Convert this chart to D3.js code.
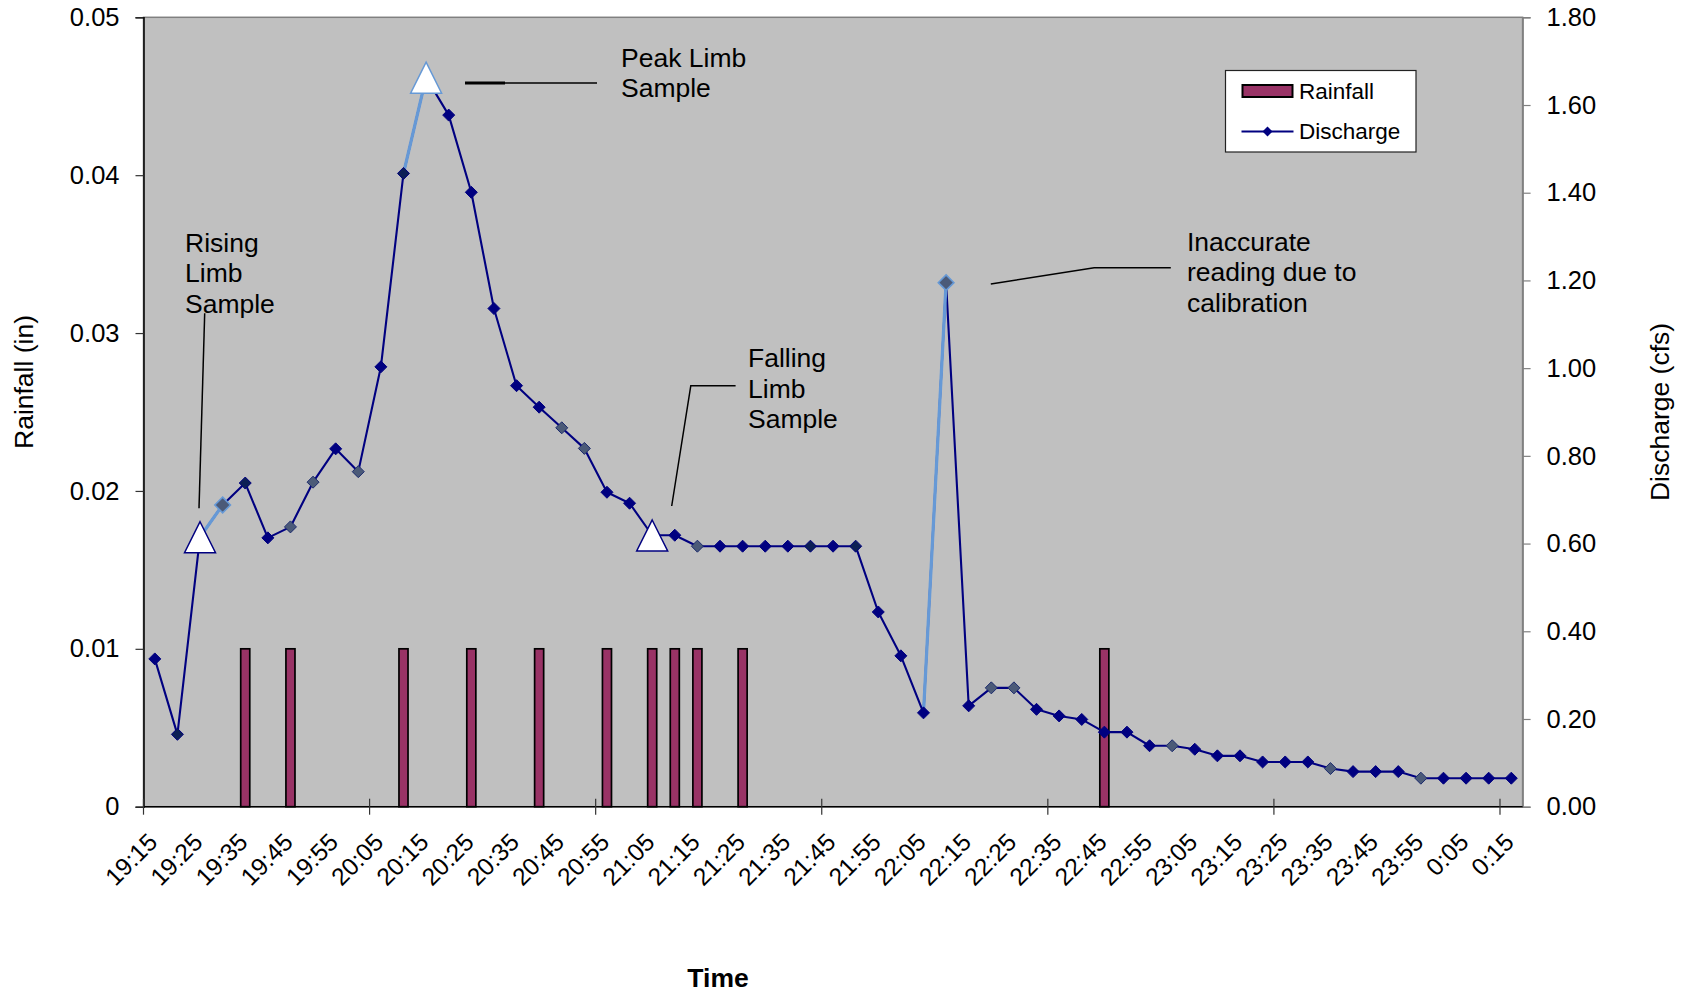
<!DOCTYPE html>
<html>
<head>
<meta charset="utf-8">
<script src="https://cdn.jsdelivr.net/npm/d3@7"></script>
<style>
  html, body { margin: 0; padding: 0; background: #ffffff; }
  svg { display: block; }
  text { font-family: "Liberation Sans", Arial, sans-serif; fill: #000; }
</style>
</head>
<body>
<svg id="chart" width="1697" height="994"></svg>
<script>
// Sampling times (5-minute steps) on the category axis
const times = [
  "19:15","19:20","19:25","19:30","19:35","19:40","19:45","19:50","19:55","20:00",
  "20:05","20:10","20:15","20:20","20:25","20:30","20:35","20:40","20:45","20:50",
  "20:55","21:00","21:05","21:10","21:15","21:20","21:25","21:30","21:35","21:40",
  "21:45","21:50","21:55","22:00","22:05","22:10","22:15","22:20","22:25","22:30",
  "22:35","22:40","22:45","22:50","22:55","23:00","23:05","23:10","23:15","23:20",
  "23:25","23:30","23:35","23:40","23:45","23:50","23:55","0:00","0:05","0:10","0:15"
];

// Discharge (cfs) at each sampling time
const discharge = [
  0.337, 0.165, 0.615, 0.688, 0.738, 0.613, 0.638, 0.740, 0.816, 0.764,
  1.003, 1.444, 1.663, 1.577, 1.401, 1.136, 0.960, 0.911, 0.864, 0.817,
  0.717, 0.692, 0.619, 0.619, 0.594, 0.594, 0.594, 0.594, 0.594, 0.594,
  0.594, 0.594, 0.444, 0.344, 0.214, 1.195, 0.230, 0.271, 0.271, 0.222,
  0.207, 0.199, 0.170, 0.170, 0.139, 0.139, 0.131, 0.116, 0.116, 0.102,
  0.102, 0.102, 0.087, 0.080, 0.080, 0.080, 0.065, 0.065, 0.065, 0.065, 0.065
];

// Rainfall (in) recorded in each interval
const rainfall = [
  0, 0, 0, 0, 0.01, 0, 0.01, 0, 0, 0,
  0, 0.01, 0, 0, 0.01, 0, 0, 0.01, 0, 0,
  0.01, 0, 0.01, 0.01, 0.01, 0, 0.01, 0, 0, 0,
  0, 0, 0, 0, 0, 0, 0, 0, 0, 0,
  0, 0, 0.01, 0, 0, 0, 0, 0, 0, 0,
  0, 0, 0, 0, 0, 0, 0, 0, 0, 0, 0
];

// Times at which water samples were taken
const sampleTimes = ["19:25", "20:15", "21:05"];

// Axis tick values and their labels
const rainTicks = [0, 0.01, 0.02, 0.03, 0.04, 0.05];
const rainTickLabels = ["0", "0.01", "0.02", "0.03", "0.04", "0.05"];
const dischargeTicks = [0, 0.2, 0.4, 0.6, 0.8, 1.0, 1.2, 1.4, 1.6, 1.8];
const dischargeTickLabels = ["0.00", "0.20", "0.40", "0.60", "0.80", "1.00", "1.20", "1.40", "1.60", "1.80"];

// Marker tones used for individual discharge points
const slatePoints = ["19:30","19:45","19:50","20:00","20:45","20:50","21:15","22:10","22:20","22:25","23:00","23:35","23:55"];
const darkPoints = ["19:20","19:35","20:10","21:40","21:50"];
const enlargedPoints = ["19:30","22:10"];
// Line segments (ending at these times) drawn in light blue
const lightSegmentEnds = ["19:30","20:15","22:10"];

// ---- layout ----
const plot = { left: 143.5, top: 17.3, right: 1522.6, bottom: 806.7 };
const NAVY = "#000080", LIGHT = "#6699d6", SLATE = "#4b5a78", DARK = "#0c1f55", PLUM = "#993366";
const TICK_FONT = "25.5px", NOTE_FONT = "26.5px", LEGEND_FONT = "22.5px", TITLE_FONT = "26.5px";

const svg = d3.select("#chart");

const x = d3.scaleBand()
  .domain(times)
  .range([plot.left, plot.right])
  .paddingInner(0.6)
  .paddingOuter(0.3);
const cx = t => x(t) + x.bandwidth() / 2;
const step = x.step();

const yL = d3.scaleLinear().domain([0, 0.05]).range([plot.bottom, plot.top]);
const yR = d3.scaleLinear().domain([0, 1.8]).range([plot.bottom, plot.top]);

// plot area
svg.append("rect")
  .attr("x", plot.left).attr("y", plot.top)
  .attr("width", plot.right - plot.left).attr("height", plot.bottom - plot.top)
  .attr("fill", "#c0c0c0").attr("stroke", "#808080").attr("stroke-width", 1.5);

// rainfall bars
const rainData = times.map((t, i) => ({ t, v: rainfall[i] })).filter(d => d.v > 0);
svg.append("g").selectAll("rect").data(rainData).join("rect")
  .attr("x", d => x(d.t))
  .attr("y", d => yL(d.v))
  .attr("width", x.bandwidth())
  .attr("height", d => yL(0) - yL(d.v))
  .attr("fill", PLUM).attr("stroke", "#000").attr("stroke-width", 1.7);

// discharge line
const pts = times.map((t, i) => ({ t, v: discharge[i] }));
const lineGen = d3.line().x(d => cx(d.t)).y(d => yR(d.v));
svg.append("path").datum(pts)
  .attr("d", lineGen).attr("fill", "none")
  .attr("stroke", NAVY).attr("stroke-width", 2.1).attr("stroke-linejoin", "round");

// highlighted segments
const segs = [];
pts.forEach((d, i) => { if (i > 0 && lightSegmentEnds.includes(d.t)) segs.push([pts[i - 1], d]); });
svg.append("g").selectAll("path").data(segs).join("path")
  .attr("d", lineGen).attr("fill", "none")
  .attr("stroke", LIGHT).attr("stroke-width", 3.2);

// diamond markers
const diamond = r => `M0,${-r}L${r},0L0,${r}L${-r},0Z`;
svg.append("g").selectAll("path")
  .data(pts.filter(d => !sampleTimes.includes(d.t))).join("path")
  .attr("transform", d => `translate(${cx(d.t)},${yR(d.v)})`)
  .attr("d", d => diamond(enlargedPoints.includes(d.t) ? 7.8 : 6))
  .attr("fill", d => slatePoints.includes(d.t) ? SLATE : darkPoints.includes(d.t) ? DARK : NAVY)
  .attr("stroke", d => enlargedPoints.includes(d.t) ? LIGHT : (slatePoints.includes(d.t) ? "#1c2b6e" : NAVY))
  .attr("stroke-width", d => enlargedPoints.includes(d.t) ? 1.6 : 1);

// sample triangles
const tri = s => `M0,${-s * 0.62}L${s / 2},${s * 0.38}L${-s / 2},${s * 0.38}Z`;
svg.append("g").selectAll("path")
  .data(pts.filter(d => sampleTimes.includes(d.t))).join("path")
  .attr("transform", d => `translate(${cx(d.t)},${yR(d.v) + 4})`)
  .attr("d", tri(31))
  .attr("fill", "#ffffff")
  .attr("stroke", d => d.t === "20:15" ? LIGHT : NAVY)
  .attr("stroke-width", 1.5);

// ---- axes ----
const leftAxis = d3.axisLeft(yL).tickValues(rainTicks)
  .tickFormat((d, i) => rainTickLabels[i]).tickSize(8).tickPadding(16);
const gl = svg.append("g").attr("transform", `translate(${plot.left},0)`).call(leftAxis);
gl.select(".domain").attr("stroke", "#000").attr("stroke-width", 1.5);
gl.selectAll(".tick line").attr("stroke", "#333").attr("stroke-width", 1.2);
gl.selectAll(".tick text").style("font-size", TICK_FONT).attr("fill", "#000");

const rightAxis = d3.axisRight(yR).tickValues(dischargeTicks)
  .tickFormat((d, i) => dischargeTickLabels[i]).tickSize(8).tickPadding(16);
const gr = svg.append("g").attr("transform", `translate(${plot.right},0)`).call(rightAxis);
gr.select(".domain").attr("stroke", "#808080").attr("stroke-width", 1.5);
gr.selectAll(".tick line").attr("stroke", "#808080").attr("stroke-width", 1.2);
gr.selectAll(".tick text").style("font-size", TICK_FONT).attr("fill", "#000");

// category axis: line, crossing tick marks every 10 intervals, labels every 2
const gx = svg.append("g");
gx.append("line")
  .attr("x1", plot.left).attr("x2", plot.right)
  .attr("y1", plot.bottom).attr("y2", plot.bottom)
  .attr("stroke", "#000").attr("stroke-width", 1.5);
const tickIdx = d3.range(0, times.length, 10);
const boundary = i => x(times[i]) - (step - x.bandwidth()) / 2;
gx.selectAll("line.tk").data(tickIdx).join("line").attr("class", "tk")
  .attr("x1", boundary).attr("x2", boundary)
  .attr("y1", plot.bottom - 8).attr("y2", plot.bottom + 8)
  .attr("stroke", "#333").attr("stroke-width", 1.2);
gx.selectAll("text").data(times.filter((t, i) => i % 2 === 0)).join("text")
  .attr("transform", t => `translate(${cx(t) + 4},${plot.bottom + 37}) rotate(-45)`)
  .attr("text-anchor", "end")
  .style("font-size", "24.5px")
  .text(t => t);

// axis titles
svg.append("text")
  .attr("transform", `translate(33,382) rotate(-90)`)
  .attr("text-anchor", "middle").style("font-size", TITLE_FONT)
  .text("Rainfall (in)");
svg.append("text")
  .attr("transform", `translate(1669,412) rotate(-90)`)
  .attr("text-anchor", "middle").style("font-size", TITLE_FONT)
  .text("Discharge (cfs)");
svg.append("text")
  .attr("x", 718).attr("y", 987)
  .attr("text-anchor", "middle").style("font-size", "26.5px").style("font-weight", "bold")
  .text("Time");

// ---- annotations ----
const ann = svg.append("g");
function multiline(xp, y0, lines, lh) {
  const t = ann.append("text").attr("x", xp).attr("y", y0).style("font-size", NOTE_FONT);
  lines.forEach((s, i) => t.append("tspan").attr("x", xp).attr("dy", i === 0 ? 0 : lh).text(s));
}
multiline(185, 251.7, ["Rising", "Limb", "Sample"], 30.4);
multiline(621, 66.7, ["Peak Limb", "Sample"], 30.6);
multiline(748, 366.7, ["Falling", "Limb", "Sample"], 30.8);
multiline(1187, 250.7, ["Inaccurate", "reading due to", "calibration"], 30.5);

const leader = (pointsArr, w) => ann.append("path")
  .attr("d", d3.line()(pointsArr)).attr("fill", "none")
  .attr("stroke", "#000").attr("stroke-width", w || 1.5);
leader([[204.7, 313.3], [199, 508.3]]);
leader([[465, 83], [597, 83]]);
leader([[465, 83], [505, 83]], 3);
leader([[735.6, 385.7], [690.8, 385.7], [671.7, 506]]);
leader([[990.8, 284], [1094.2, 267.7], [1170.8, 267.7]]);

// ---- legend ----
const lg = svg.append("g");
lg.append("rect").attr("x", 1225.5).attr("y", 70.5).attr("width", 190.5).attr("height", 81.5)
  .attr("fill", "#fff").attr("stroke", "#222").attr("stroke-width", 1.2);
lg.append("rect").attr("x", 1242.5).attr("y", 85).attr("width", 50).attr("height", 12)
  .attr("fill", PLUM).attr("stroke", "#000").attr("stroke-width", 2);
lg.append("text").attr("x", 1299).attr("y", 98.5).style("font-size", LEGEND_FONT).text("Rainfall");
lg.append("line").attr("x1", 1241.5).attr("x2", 1293.5).attr("y1", 131.5).attr("y2", 131.5)
  .attr("stroke", NAVY).attr("stroke-width", 2);
lg.append("path").attr("transform", "translate(1267.5,131.5)").attr("d", diamond(5))
  .attr("fill", NAVY);
lg.append("text").attr("x", 1299).attr("y", 139).style("font-size", LEGEND_FONT).text("Discharge");
</script>
</body>
</html>
